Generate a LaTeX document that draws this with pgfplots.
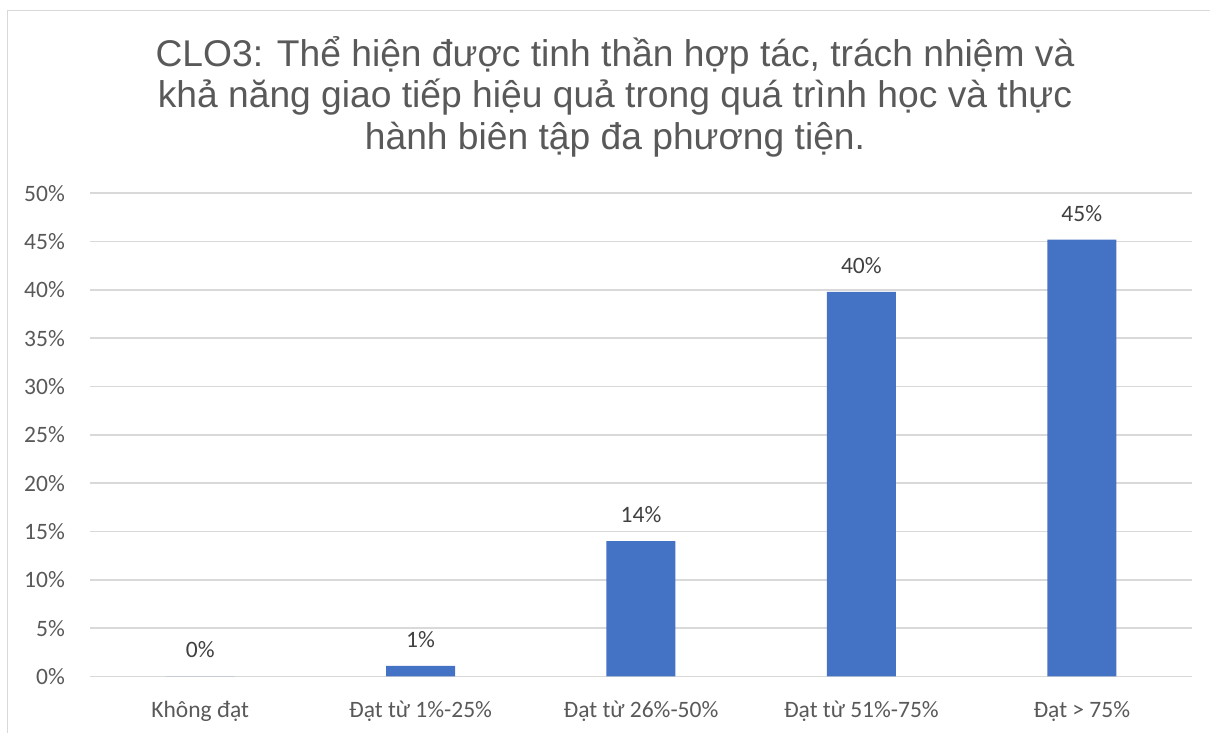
\documentclass[border=0pt]{standalone}
\usepackage{fontspec}
\setmainfont{Liberation Sans}
\newfontfamily\carlito{Carlito}
\usepackage{pgfplots}
\pgfplotsset{compat=1.18}
\definecolor{titlegray}{HTML}{595959}
\definecolor{labgray}{HTML}{404040}
\definecolor{gridgray}{HTML}{D9D9D9}
\definecolor{barblue}{HTML}{4472C4}
\begin{document}
\begin{tikzpicture}
\useasboundingbox (0,0) rectangle (1210bp,733bp);
\draw[gridgray, line width=1.5bp] (7.5bp,-20bp) rectangle (1240bp,722.5bp);
\begin{scope}[every node/.style={anchor=base, inner sep=0pt, text=titlegray, font=\fontsize{37.2bp}{43bp}\selectfont}]
\node at (615bp,666bp) {CLO3: Thể hiện được tinh thần hợp tác, trách nhiệm và};
\node at (615bp,625bp) {khả năng giao tiếp hiệu quả trong quá trình học và thực};
\node at (615bp,583bp) {hành biên tập đa phương tiện.};
\end{scope}
\begin{axis}[
  at={(90bp,56.5bp)}, anchor=south west,
  scale only axis, width=1102bp, height=483.3bp,
  xmin=-0.5, xmax=4.5, ymin=0, ymax=50,
  axis line style={draw=none},
  major tick length=0pt,
  ymajorgrids, grid style={gridgray, line width=1.5bp},
  ytick={0,5,...,50},
  yticklabels={0\%,5\%,10\%,15\%,20\%,25\%,30\%,35\%,40\%,45\%,50\%},
  xtick={0,1,2,3,4},
  xticklabels={Không đạt, Đạt từ 1\%-25\%, Đạt từ 26\%-50\%, Đạt từ 51\%-75\%, Đạt > 75\%},
  yticklabel style={anchor=east, inner sep=0pt, xshift=-25bp, text=titlegray, font=\carlito\fontsize{23.5bp}{28bp}\selectfont},
  xticklabel style={anchor=base, inner sep=0pt, yshift=-40.5bp, text=titlegray, font=\carlito\fontsize{23.5bp}{28bp}\selectfont},
  ybar, bar width=69bp,
  /pgf/number format/assume math mode=true,
  nodes near coords={\pgfmathprintnumber[fixed, precision=0, assume math mode=true]{\pgfplotspointmeta}\%},
  every node near coord/.append style={anchor=base, inner sep=0pt, yshift=18.5bp, text=labgray, font=\carlito\fontsize{23.5bp}{28bp}\selectfont},
  clip=false,
]
\draw[gridgray, line width=1.5bp] (axis cs:-0.5,0) -- (axis cs:4.5,0);
\addplot[fill=barblue, draw=none] coordinates {(0,0) (1,1.1) (2,14.0) (3,39.8) (4,45.2)};
\end{axis}
\end{tikzpicture}
\end{document}
